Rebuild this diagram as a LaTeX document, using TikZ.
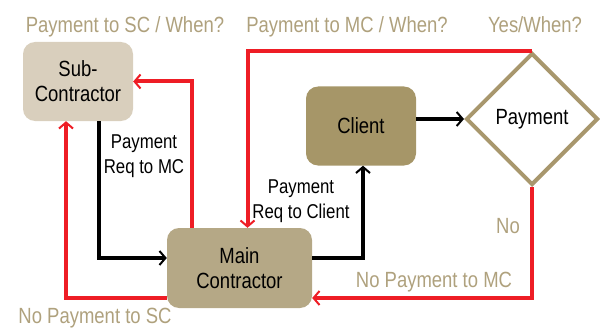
\documentclass[tikz,border=0pt]{standalone}
\usepackage{fontspec}
\setmainfont{Liberation Sans}[FakeStretch=0.84]
\usetikzlibrary{arrows.meta,shapes.geometric}
\definecolor{subfill}{HTML}{D9CFBD}
\definecolor{mainfill}{HTML}{B5A886}
\definecolor{clientfill}{HTML}{A69668}
\definecolor{paytan}{HTML}{A8976D}
\definecolor{labeltan}{HTML}{AFA17D}
\definecolor{payred}{HTML}{EE1D25}
\begin{document}
\begin{tikzpicture}[x=1pt,y=-1pt,
		party/.style={rounded corners=12pt,minimum width=110pt,minimum height=79pt,inner sep=0pt,align=center,font=\fontsize{22}{25}\selectfont},
		nopay/.style={draw=payred,line width=4pt,-{Straight Barb[length=6pt,width=14pt,line width=2pt]}},
		flow/.style={draw=black,line width=4.5pt,-{Straight Barb[length=6pt,width=14pt,line width=2pt]}},
		tanlabel/.style={text=labeltan,inner sep=0pt,anchor=base,font=\fontsize{22}{25}\selectfont},
		reqlabel/.style={inner sep=0pt,align=center,font=\fontsize{20}{25}\selectfont}]
			\useasboundingbox (0,0) rectangle (600,329);
			\node[party,fill=subfill] (sub) at (78,81.5) {Sub-\\Contractor};
			\node[party,fill=mainfill,minimum width=145pt,minimum height=80pt] (main) at (239.5,268) {Main\\Contractor};
			\node[party,fill=clientfill] (client) at (361,126) {Client};
			\node[diamond,draw=paytan,line width=4pt,minimum width=132pt,minimum height=132pt,inner sep=0pt,font=\fontsize{22}{25}\selectfont] (pay) at (532,119) {Payment};
			\draw[nopay] ([xshift=-48pt]main.north) |- (sub.east);
			\draw[nopay] ([yshift=-30pt]main.west) -| ([xshift=-12pt]sub.south);
			\draw[nopay] (pay.north) -| ([xshift=8pt]main.north);
			\draw[nopay] (pay.south) |- ([yshift=-30pt]main.east);
			\draw[flow] ([xshift=21pt]sub.south) |- ([yshift=10pt]main.west);
			\draw[flow] ([yshift=10pt]main.east) -| ([xshift=2pt]client.south);
			\draw[flow] (client.east |- pay.west) -- (pay.west);
			\node[tanlabel] (sclabel) at (125,33) {Payment to SC / When?};
			\node[tanlabel] (mclabel) at (347,33) {Payment to MC / When?};
			\node[tanlabel] (yeslabel) at (535,33) {Yes/When?};
			\node[tanlabel] (nolabel) at (508,233) {No};
			\node[tanlabel] (nomclabel) at (434,287) {No Payment to MC};
			\node[tanlabel] (nosclabel) at (95,323.5) {No Payment to SC};
			\node[reqlabel] (reqmc) at (144,156) {Payment\\Req to MC};
			\node[reqlabel] (reqclient) at (301,201) {Payment\\Req to Client};
		\end{tikzpicture}
\end{document}
